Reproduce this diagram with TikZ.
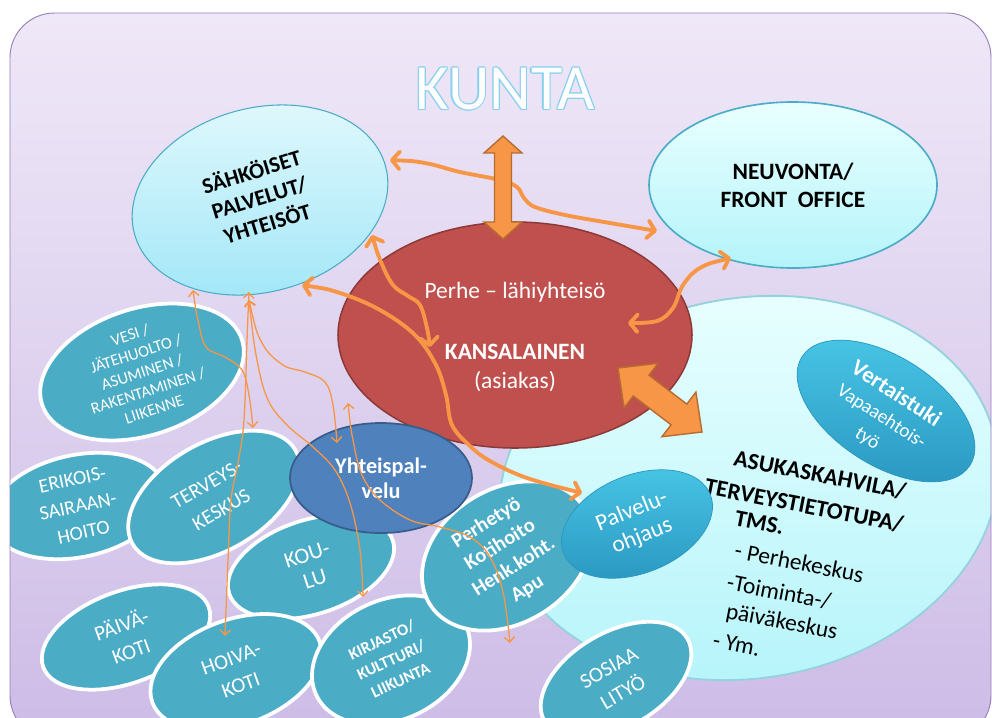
\documentclass[tikz,border=0pt]{standalone}
\usepackage{fontspec}
\setmainfont{Carlito}
\usetikzlibrary{shapes.geometric,arrows.meta}
\definecolor{bgtop}{RGB}{240,233,248}
\definecolor{bgbot}{RGB}{206,189,231}
\definecolor{bgline}{RGB}{150,128,185}
\definecolor{cteal}{RGB}{75,172,198}
\definecolor{cred}{RGB}{192,80,77}
\definecolor{credline}{RGB}{140,58,56}
\definecolor{cblue}{RGB}{79,129,189}
\definecolor{cblueline}{RGB}{56,93,138}
\definecolor{corange}{RGB}{247,150,70}
\definecolor{corangeline}{RGB}{182,108,48}
\definecolor{ltop}{RGB}{226,249,253}
\definecolor{lbot}{RGB}{160,230,247}
\definecolor{ltopb}{RGB}{234,255,255}
\definecolor{lbotb}{RGB}{180,244,250}
\definecolor{lline}{RGB}{75,172,198}
\definecolor{lbline}{RGB}{150,210,222}
\definecolor{mtop}{RGB}{72,198,230}
\definecolor{mbot}{RGB}{42,150,192}
\definecolor{kblue}{RGB}{135,208,238}
\newcommand\outlined[1]{\leavevmode
 \rlap{\textcolor{kblue}{\kern-1.1pt#1}}%
 \rlap{\textcolor{kblue}{\kern1.1pt#1}}%
 \rlap{\textcolor{kblue}{\raisebox{1.1pt}{#1}}}%
 \rlap{\textcolor{kblue}{\raisebox{-1.1pt}{#1}}}%
 \rlap{\textcolor{kblue}{\kern-0.8pt\raisebox{0.8pt}{#1}}}%
 \rlap{\textcolor{kblue}{\kern0.8pt\raisebox{0.8pt}{#1}}}%
 \rlap{\textcolor{kblue}{\kern-0.8pt\raisebox{-0.8pt}{#1}}}%
 \rlap{\textcolor{kblue}{\kern0.8pt\raisebox{-0.8pt}{#1}}}%
 \textcolor{white}{#1}}
\newcommand\dblarr[4]{%
  \draw[bigarrow] (0,0) -- (#4,#3/2) -- (#4,#2/2) -- (#1-#4,#2/2) -- (#1-#4,#3/2) -- (#1,0)
     -- (#1-#4,-#3/2) -- (#1-#4,-#2/2) -- (#4,-#2/2) -- (#4,-#3/2) -- cycle;}
\tikzset{
  px/.style 2 args={minimum width=#1*0.85358pt, minimum height=#2*0.85358pt},
  fs/.style 2 args={font=\fontsize{#1}{#2}\selectfont},
  fsb/.style 2 args={font=\fontsize{#1}{#2}\selectfont\bfseries},
  ell/.style={ellipse, inner sep=0pt, align=center},
  tealell/.style={ell, fill=cteal, draw=white, line width=3.2pt, text=white},
  lightell/.style={ell, top color=ltop, bottom color=lbot, draw=lline, line width=0.9pt},
  midell/.style={ell, top color=mtop, bottom color=mbot, draw=mbot, line width=0.6pt, text=white},
  thickarr/.style={draw=corange, line width=3.3pt, line cap=round, >={Straight Barb[length=6.5pt,width=15pt,round]}, <->},
  thinarr/.style={draw=corange, line width=1.1pt, >={Straight Barb[length=4.5pt,width=9pt]}, <->},
  bigarrow/.style={fill=corange, draw=corangeline, line width=1.2pt, line join=miter},
  txt/.style={inner sep=0pt, align=center},
}
\begin{document}
\begin{tikzpicture}[x=0.03cm, y=-0.03cm]
\useasboundingbox (0,0) rectangle (992,717);
\begin{scope}
\clip[rounded corners=38pt] (10,13) rectangle (991,740);
\shade[top color=bgtop, bottom color=bgbot] (0,0) rectangle (992,717);
% title
\node[inner sep=0pt, font=\fontsize{55}{60}\selectfont] (kunta) at (505,89) {\outlined{KUNTA}};
% big light ellipse
\node[ell, top color=ltopb, bottom color=lbotb, draw=lbline, line width=1.6pt, px={502}{380}, rotate=10] (asuk) at (749,488) {};
% citizen
\node[ell, fill=cred, draw=credline, line width=1.3pt, px={354}{226}] (kans) at (515,335) {};
\node[txt, fs={20}{24}, text=white] (perhe) at (515,292) {Perhe – lähiyhteisö};
\node[txt, fsb={20}{24}, text=white] (kansal) at (515,352) {KANSALAINEN};
\node[txt, fs={20}{24}, text=white] (asiakas) at (515,382) {(asiakas)};
% light ellipses
\node[lightell, px={260}{184}, rotate=15, fsb={19}{23}] (sahko) at (260,200) {\rotatebox{2}{\begin{tabular}{@{}c@{}}SÄHKÖISET\\PALVELUT/\\YHTEISÖT\end{tabular}}};
\node[ell, top color=ltopb, bottom color=lbotb, draw=lline, line width=1.4pt, px={288}{166}, fsb={20}{24}] (neuv) at (793,185) {NEUVONTA/\\FRONT\ \ OFFICE};
% teal ellipses
\node[tealell, px={210}{118}, rotate=18, fs={14}{16.7}] (vesi) at (142,372) {VESI /\\JÄTEHUOLTO /\\ASUMINEN /\\RAKENTAMINEN /\\LIIKENNE};
\node[tealell, px={178}{102}, rotate=12, fs={17}{23}] (erik) at (78,506) {ERIKOIS-\\SAIRAAN-\\HOITO};
\node[tealell, px={188}{108}, rotate=30, fs={17.5}{25}] (terv) at (214,497) {TERVEYS-\\KESKUS};
\node[tealell, px={172}{94}, rotate=18, fs={19}{22}] (koulu) at (311,567) {KOU-\\LU};
\node[tealell, px={176}{92}, rotate=20, fs={18}{24}] (paiva) at (126,637) {PÄIVÄ-\\KOTI};
\node[tealell, px={178}{105}, rotate=20, fs={18}{24}] (hoiva) at (236,672) {HOIVA-\\KOTI};
\node[tealell, px={165}{120}, rotate=25, fsb={14}{19}] (kirj) at (391,660) {KIRJASTO/\\KULTTURI/\\LIIKUNTA};
\node[tealell, px={182}{122}, rotate=32, fsb={17.5}{22}] (perhet) at (507,556) {Perhetyö\\Kotihoito\\Henk.koht.\\Apu};
\node[tealell, px={165}{95}, rotate=30, fs={18}{24}] (sos) at (616,680) {SOSIAA\\LITYÖ};
\node[ell, fill=cblue, draw=cblueline, line width=1.5pt, text=white, px={182}{110}, fsb={19}{21}] (yhteis) at (381,478) {Yhteispal-\\velu};
% text in big ellipse
\node[anchor=west, rotate=-11, inner sep=0pt, fsb={20}{24}] (as1) at (734,458) {ASUKASKAHVILA/};
\node[anchor=west, rotate=-11, inner sep=0pt, fsb={20}{24}] (as2) at (705,486) {TERVEYSTIETOTUPA/};
\node[anchor=west, rotate=-11, inner sep=0pt, fsb={20}{24}] (as3) at (735,518) {TMS.};
\node[anchor=west, rotate=-11, inner sep=0pt, fs={20}{24}] (as4) at (735,550) {- Perhekeskus};
\node[anchor=west, rotate=-11, inner sep=0pt, fs={20}{24}] (as5) at (727,582) {-Toiminta-/};
\node[anchor=west, rotate=-11, inner sep=0pt, fs={20}{24}] (as6) at (726,612) {päiväkeskus};
\node[anchor=west, rotate=-11, inner sep=0pt, fs={20}{24}] (as7) at (713,640) {- Ym.};
% medium ellipses
\node[midell, px={158}{98}, rotate=22, fs={20}{23}] (palv) at (637,524) {Palvelu-\\ohjaus};
\node[midell, px={200}{108}, rotate=-33] (vert) at (886,411) {};
\node[txt, rotate=-33, text=white, fsb={19.5}{22}] (verttxt) at (882,416) {Vertaistuki\\{\fontsize{16.5}{22}\selectfont\mdseries Vapaaehtois-}\\{\fontsize{16.5}{22}\selectfont\mdseries työ}};
% connector end points
\coordinate (cA1) at (390,160); \coordinate (cA2) at (657,231);
\coordinate (cB1) at (302,285); \coordinate (cB2) at (582,493);
\coordinate (cC1) at (372,235); \coordinate (cC2) at (430,347);
\coordinate (cD1) at (731,258); \coordinate (cD2) at (628,323);
\coordinate (t1a) at (193,290); \coordinate (t1b) at (253,428);
\coordinate (t2a) at (249,292); \coordinate (t2b) at (225,636);
\coordinate (t3a) at (249,300); \coordinate (t3b) at (337,443);
\coordinate (t4b) at (363,597);
\coordinate (t5a) at (348,403); \coordinate (t5b) at (510,643);
\coordinate (va1) at (503,136); \coordinate (da1) at (618,368);
% thick curved connectors
\draw[thickarr] plot[smooth, tension=0.6] coordinates {(cA1) (425,163) (460,172) (500,180) (517,187) (524,198) (535,207) (565,215) (610,223) (cA2)};
\draw[thickarr] plot[smooth, tension=0.6] coordinates {(cB1) (340,293) (380,310) (415,335) (436,365) (446,395) (452,425) (470,446) (490,461) (527,478) (cB2)};
\draw[thickarr] plot[smooth, tension=0.6] coordinates {(cC1) (381,262) (393,285) (408,296) (420,305) (427,328) (cC2)};
\draw[thickarr] plot[smooth, tension=0.6] coordinates {(cD1) (700,268) (683,285) (673,308) (657,321) (cD2)};
% big double arrows
\begin{scope}[shift={(va1)}, rotate=-90]
  \dblarr{103}{17}{38}{17}
\end{scope}
\begin{scope}[shift={(da1)}, rotate=-37.3]
  \dblarr{105.6}{26}{56}{29}
\end{scope}
% thin connectors
\draw[thinarr] plot[smooth, tension=0.6] coordinates {(t1a) (198,320) (206,347) (225,357) (242,370) (249,395) (t1b)};
\draw[thinarr] plot[smooth, tension=0.6] coordinates {(t2a) (247,340) (244,420) (238,463) (231,500) (228,560) (t2b)};
\draw[thinarr] plot[smooth, tension=0.6] coordinates {(t3a) (262,343) (283,365) (305,372) (325,382) (333,405) (t3b)};
\draw[thinarr] plot[smooth, tension=0.6] coordinates {(t3a) (257,360) (268,400) (287,425) (313,447) (335,470) (350,503) (360,550) (t4b)};
\draw[thinarr] plot[smooth, tension=0.6] coordinates {(t5a) (353,440) (362,475) (380,500) (410,520) (440,527) (470,537) (490,557) (503,592) (t5b)};
\end{scope}
\draw[bgline, line width=0.8pt, rounded corners=38pt] (10,13) rectangle (991,740);
\end{tikzpicture}
\end{document}
